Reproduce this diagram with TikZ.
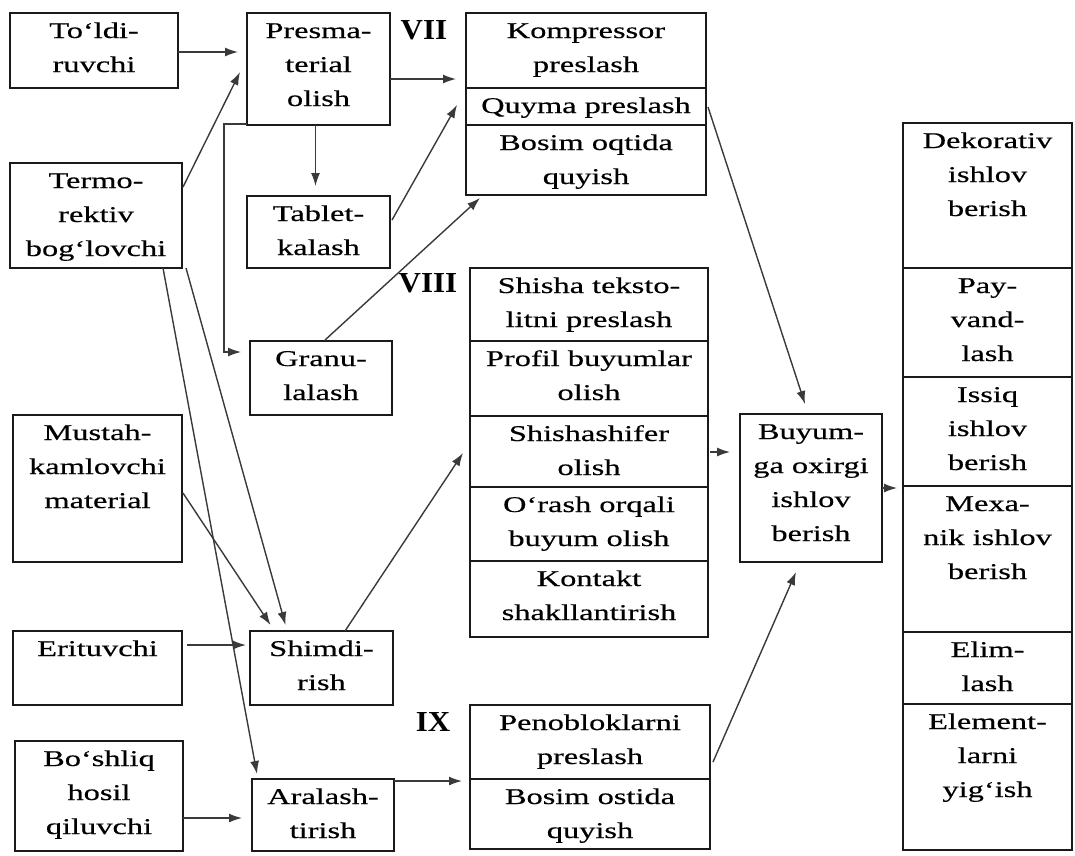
\documentclass[tikz,border=0pt]{standalone}
\usepackage{fontspec}
\setmainfont{Liberation Serif}[FakeStretch=1.44,FakeBold=0.4]
\newfontfamily\labfont{Liberation Serif}[FakeStretch=1.07]
\usetikzlibrary{calc,arrows.meta}
\definecolor{lncol}{HTML}{3A3A3A}
\definecolor{bxcol}{HTML}{1A1A1A}
\tikzset{
  bx/.style={draw=bxcol, line width=1.5pt, inner sep=0pt, outer sep=0pt,
    font=\fontsize{22.5}{34}\selectfont, text=black},
  arr/.style={draw=lncol, line width=1.4pt, -{Latex[length=13pt,width=9pt]}},
  lab/.style={inner sep=0pt, font=\labfont\bfseries\fontsize{29}{30}\selectfont}
}
\newcommand{\bx}[6]{\node[bx,anchor=north west] (#1) at (#2,#3)
  {\parbox[c][#5pt][t]{#4pt}{\centering\rule{0pt}{25pt}#6\par}};}
\begin{document}
\begin{tikzpicture}[x=1pt,y=-1pt]
\path[fill=white,use as bounding box] (0,0) rectangle (1075,855);
% column 1
\bx{told}{10}{13}{168}{75}{To‘ldi-\\ruvchi}
\bx{term}{10}{163}{172}{105}{Termo-\\rektiv\\bog‘lovchi}
\bx{must}{13}{415}{169}{147}{Mustah-\\kamlovchi\\material}
\bx{erit}{13}{631}{169}{74}{Erituvchi}
\bx{bosh}{15}{741}{168}{110}{Bo‘shliq\\hosil\\qiluvchi}
% column 2
\bx{pres}{247}{13}{143}{112}{Presma-\\terial\\olish}
\bx{tabl}{247}{196}{143}{72}{Tablet-\\kalash}
\bx{gran}{250}{341}{142}{74}{Granu-\\lalash}
\bx{shim}{250}{631}{143}{74}{Shimdi-\\rish}
\bx{aral}{252}{779}{142}{72}{Aralash-\\tirish}
% column 3
\bx{komp}{466}{13}{240}{75}{Kompressor\\preslash}
\bx{quym}{466}{88}{240}{37}{Quyma preslash}
\bx{bosq}{466}{125}{240}{70}{Bosim oqtida\\quyish}
\bx{shis}{470}{268}{238}{73}{Shisha teksto-\\litni preslash}
\bx{prof}{470}{341}{238}{75}{Profil buyumlar\\olish}
\bx{shsh}{470}{416}{238}{71}{Shishashifer\\olish}
\bx{orash}{470}{487}{238}{74}{O‘rash orqali\\buyum olish}
\bx{kont}{470}{561}{238}{76}{Kontakt\\shakllantirish}
\bx{peno}{470}{705}{240}{74}{Penobloklarni\\preslash}
\bx{bosi}{470}{779}{240}{70}{Bosim ostida\\quyish}
% column 4
\bx{buy}{740}{414}{142}{148}{Buyum-\\ga oxirgi\\ishlov\\berish}
% column 5
\bx{deko}{903}{123}{169}{145}{Dekorativ\\ishlov\\berish}
\bx{payv}{903}{268}{169}{109}{Pay-\\vand-\\lash}
\bx{issi}{903}{377}{169}{109}{Issiq\\ishlov\\berish}
\bx{mexa}{903}{486}{169}{146}{Mexa-\\nik ishlov\\berish}
\bx{elim}{903}{632}{169}{72}{Elim-\\lash}
\bx{elem}{903}{704}{169}{146}{Element-\\larni\\yig‘ish}
% group labels
\node[lab] (l7) at (424,30) {VII};
\node[lab] (l8) at (428,283) {VIII};
\node[lab] (l9) at (433,722) {IX};
% connectors
\draw[arr] ($(told.east)+(0,1.5)$) -- ($(pres.west)+(-9,-17)$);
\draw[arr] ($(term.north east)+(1,24)$) -- ($(pres.west)+(-7,3)$);
\draw[arr] ($(pres.south)+(-3,0)$) -- ($(tabl.north)+(-3,-10)$);
\draw[arr] ($(pres.east)+(0,10)$) -- ($(komp.south west)+(-10,-9)$);
\draw[arr] ($(tabl.east)+(2,-12)$) -- ($(quym.west)+(-9,-1.5)$);
\draw[arr] ($(pres.south west)+(0,-1)$) -- ++(-23,0) |- ($(gran.north west)+(-9,11)$);
\draw[arr] ($(gran.north)+(4,-1)$) -- ($(bosq.south west)+(14,3)$);
\draw[arr] ($(term.south east)+(4,0)$) -- ($(shim.north)+(-36,-6)$);
\draw[arr] ($(must.east)+(1,4.5)$) -- ($(shim.north)+(-51,-6)$);
\draw[arr] ($(erit.north east)+(5,14)$) -- ($(shim.north west)+(-4,14)$);
\draw[arr] ($(term.south)+(67,0)$) -- ($(aral.north west)+(5,-5)$);
\draw[arr] ($(bosh.east)+(0,22)$) -- ($(aral.west)+(-10,3)$);
\draw[arr] ($(aral.north east)+(0,2)$) -- ($(peno.south west)+(-8,2)$);
\draw[arr] ($(shim.north)+(23.5,0)$) -- ($(shsh.west)+(-7,1.5)$);
\draw[arr] ($(quym.east)+(2,0.5)$) -- ($(buy.north)+(-6,-10)$);
\draw[arr] ($(shsh.east)+(2,0.5)$) -- ($(buy.north west)+(-10,38)$);
\draw[arr] ($(peno.east)+(3,20)$) -- ($(buy.south)+(-15,10)$);
\draw[arr] (buy.east) -- ($(mexa.north west)+(-6,2)$);
\end{tikzpicture}
\end{document}
